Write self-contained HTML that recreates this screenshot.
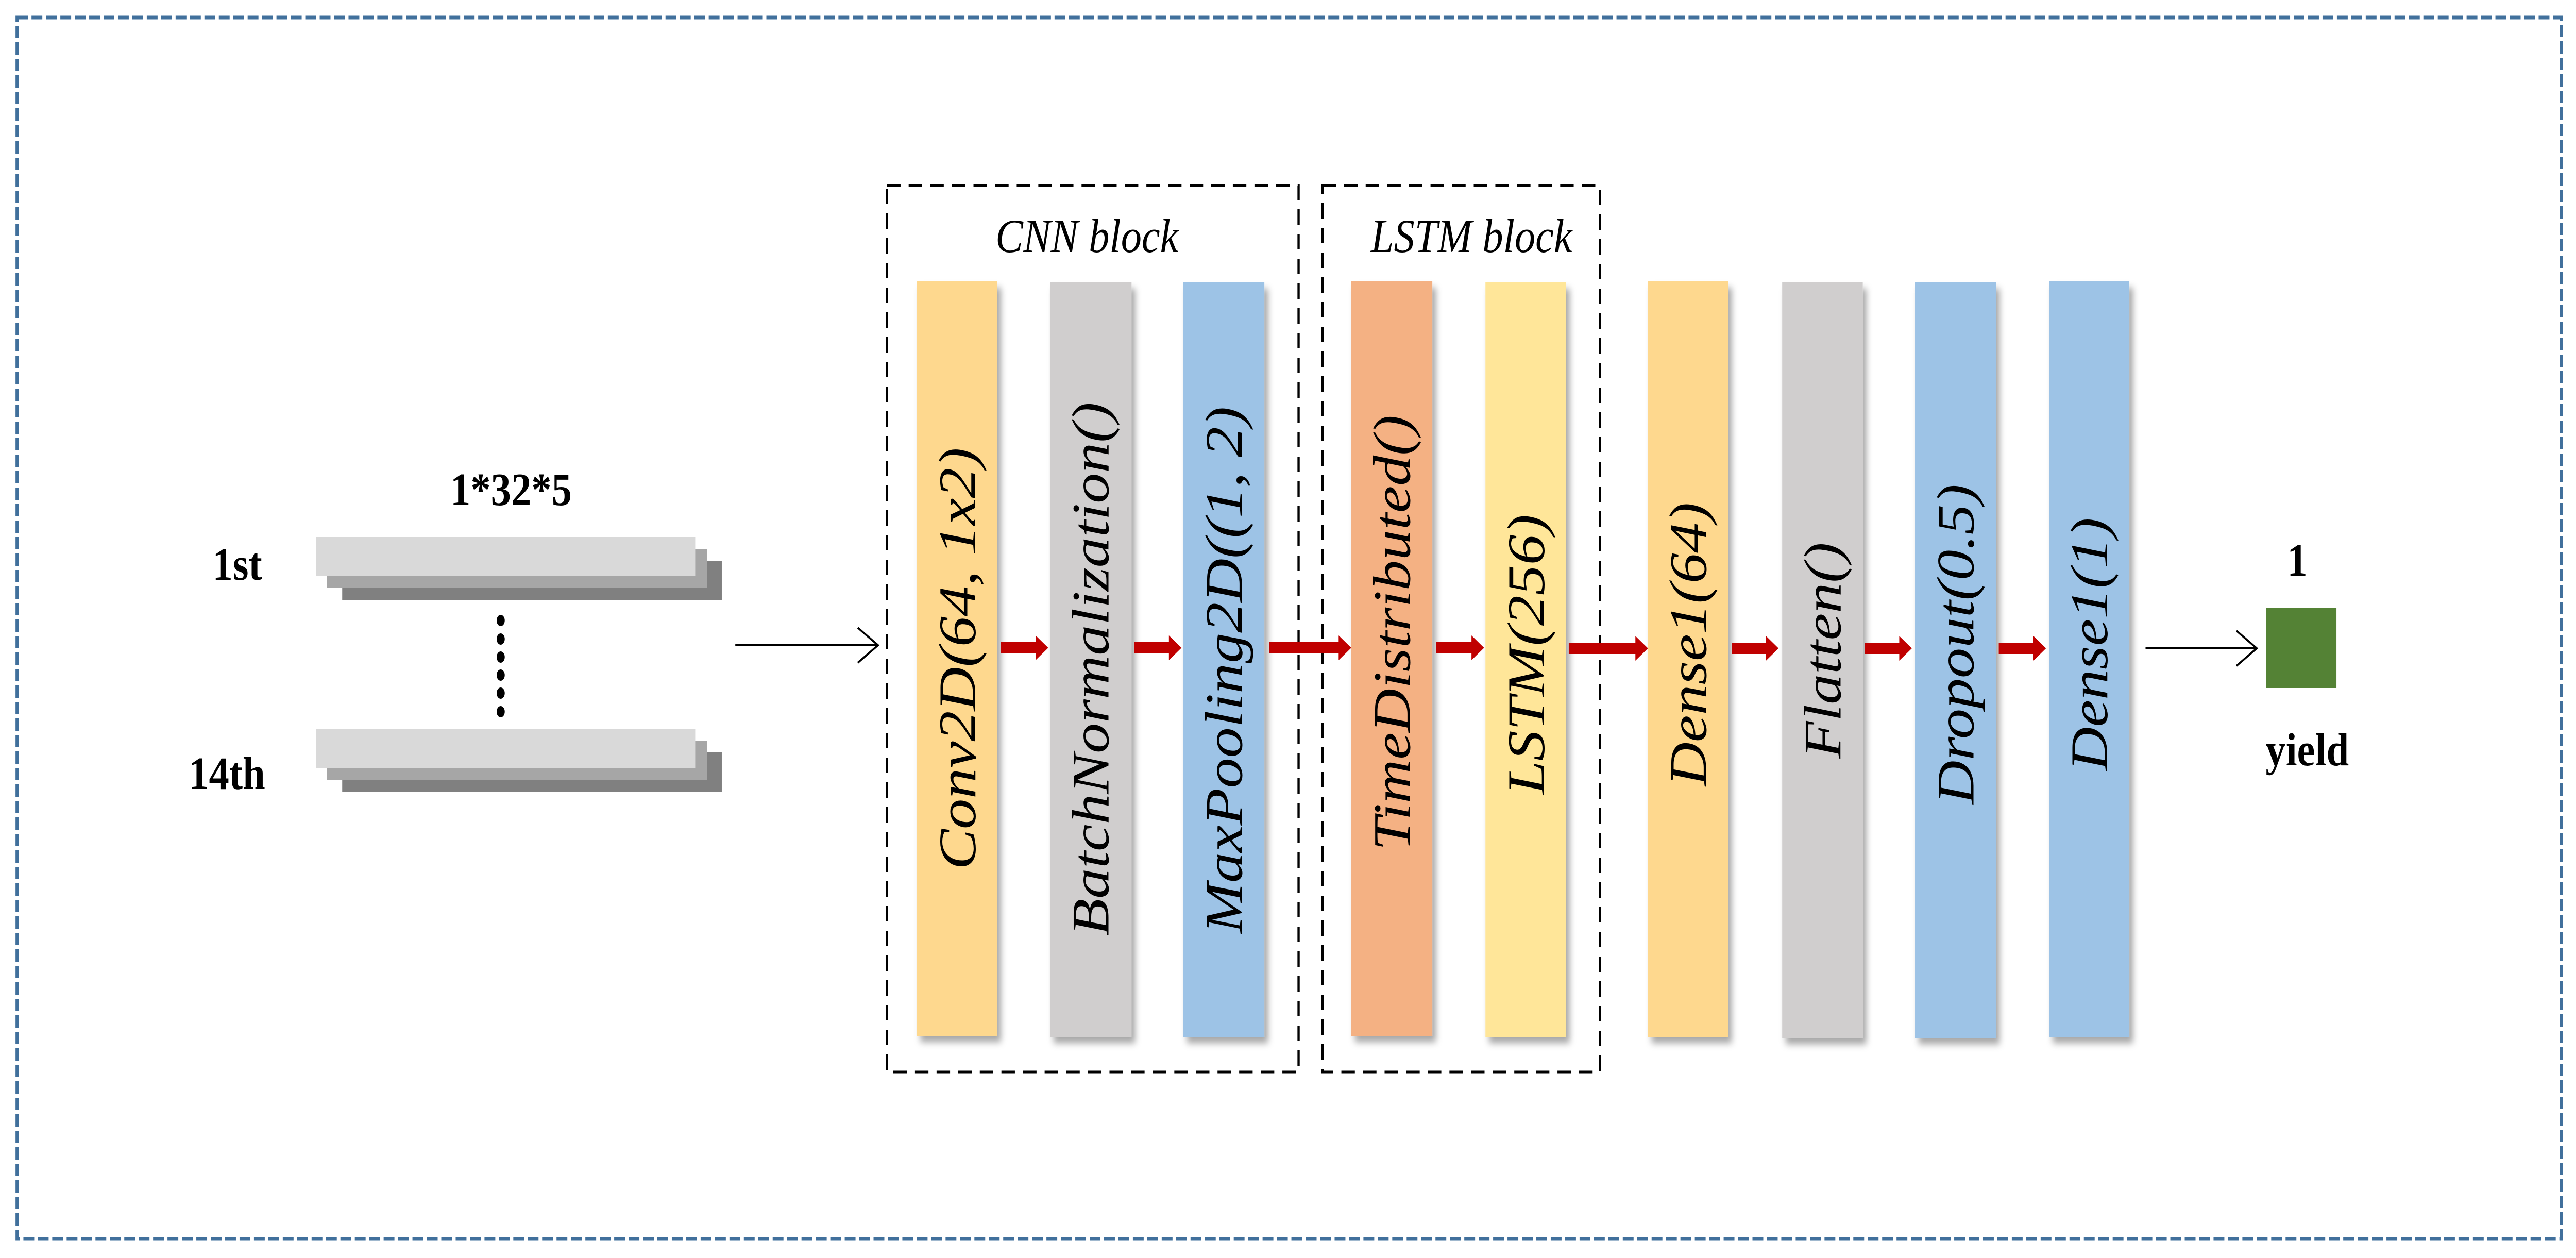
<!DOCTYPE html>
<html><head><meta charset="utf-8"><style>
html,body{margin:0;padding:0;background:#fff;width:100%;height:100%;overflow:hidden;}
svg{display:block;position:absolute;left:0;top:0;width:100vw;height:100vh;}
</style></head><body>
<svg viewBox="0 0 5721 2441" preserveAspectRatio="none" xmlns="http://www.w3.org/2000/svg">
<defs>
<filter id="sh" x="-20%" y="-5%" width="150%" height="115%">
<feDropShadow dx="8" dy="12" stdDeviation="7" flood-color="#000" flood-opacity="0.35"/>
</filter>
</defs>
<rect x="38" y="34" width="5650" height="2370" fill="none" stroke="#41709c" stroke-width="7" stroke-dasharray="24 8"/>

<g>
<rect x="760" y="1088" width="843" height="76" fill="#808080"/>
<rect x="726" y="1066" width="844" height="74" fill="#a6a6a6"/>
<rect x="702" y="1042" width="842" height="76" fill="#d9d9d9"/>
<rect x="760" y="1460" width="843" height="76" fill="#808080"/>
<rect x="726" y="1438" width="844" height="75" fill="#a6a6a6"/>
<rect x="702" y="1414" width="842" height="76" fill="#d9d9d9"/>
</g>
<g fill="#000">
<ellipse cx="1112" cy="1204" rx="9" ry="11"/>
<ellipse cx="1112" cy="1240" rx="9" ry="11"/>
<ellipse cx="1112" cy="1275" rx="9" ry="11"/>
<ellipse cx="1112" cy="1310" rx="9" ry="11"/>
<ellipse cx="1112" cy="1345" rx="9" ry="11"/>
<ellipse cx="1112" cy="1381" rx="9" ry="11"/>
</g>
<g font-family="Liberation Serif, serif" font-weight="bold" font-size="90" fill="#000">
<text x="1135" y="980" text-anchor="middle">1*32*5</text>
<text x="527" y="1125" text-anchor="middle">1st</text>
<text x="504" y="1531" text-anchor="middle">14th</text>
<text x="5102" y="1117" text-anchor="middle">1</text>
<text x="5124" y="1485" text-anchor="middle">yield</text>
</g>

<g stroke="#000" stroke-width="4" fill="none">
<line x1="1633" y1="1252" x2="1950" y2="1252"/>
<polyline points="1905,1218 1950,1252 1905,1286"/>
<line x1="4765" y1="1258" x2="5012" y2="1258"/>
<polyline points="4967,1224 5012,1258 4967,1292"/>
</g>
<rect x="5033" y="1179" width="156" height="156" fill="#548235"/>

<g fill="none" stroke="#000" stroke-width="5" stroke-dasharray="30 18">
<rect x="1970" y="360" width="914" height="1720"/>
<rect x="2937" y="360" width="616" height="1720"/>
</g>
<g font-family="Liberation Serif, serif" font-style="italic" font-size="92" fill="#000">
<text x="2414" y="489" text-anchor="middle">CNN block</text>
<text x="3268" y="489" text-anchor="middle">LSTM block</text>
</g>

<g filter="url(#sh)">
<rect x="2036" y="546" width="179" height="1464" fill="#fed88e"/>
<rect x="2332" y="548" width="181" height="1464" fill="#d0cece"/>
<rect x="2628" y="548" width="180" height="1464" fill="#9dc3e6"/>
<rect x="3001" y="546" width="180" height="1464" fill="#f4b183"/>
<rect x="3299" y="548" width="179" height="1464" fill="#ffe699"/>
<rect x="3660" y="546" width="178" height="1466" fill="#fed88e"/>
<rect x="3958" y="548" width="179" height="1466" fill="#d0cece"/>
<rect x="4253" y="548" width="180" height="1466" fill="#9dc3e6"/>
<rect x="4551" y="546" width="178" height="1466" fill="#9dc3e6"/>
</g>
<g font-family="Liberation Serif, serif" font-style="italic" font-size="118" fill="#000" text-anchor="middle" dominant-baseline="central">
<text transform="translate(2126,1278) rotate(-90)">Conv2D(64, 1x2)</text>
<text transform="translate(2422,1298) rotate(-90)">BatchNormalization()</text>
<text transform="translate(2718,1300) rotate(-90)">MaxPooling2D((1, 2)</text>
<text transform="translate(3091,1228) rotate(-90)">TimeDistributed()</text>
<text transform="translate(3389,1270) rotate(-90)">LSTM(256)</text>
<text transform="translate(3749,1250) rotate(-90)">Dense1(64)</text>
<text transform="translate(4048,1262) rotate(-90)">Flatten()</text>
<text transform="translate(4343,1250) rotate(-90)">Dropout(0.5)</text>
<text transform="translate(4640,1250) rotate(-90)">Dense1(1)</text>
</g>

<g fill="#c00000">
<polygon points="2223,1246 2300,1246 2300,1233 2328,1257 2300,1281 2300,1268 2223,1268"/>
<polygon points="2519,1246 2596,1246 2596,1233 2624,1257 2596,1281 2596,1268 2519,1268"/>
<polygon points="2819,1246 2973,1246 2973,1233 3001,1257 2973,1281 2973,1268 2819,1268"/>
<polygon points="3190,1246 3268,1246 3268,1233 3296,1257 3268,1281 3268,1268 3190,1268"/>
<polygon points="3484,1247 3632,1247 3632,1234 3660,1258 3632,1282 3632,1269 3484,1269"/>
<polygon points="3846,1247 3922,1247 3922,1234 3950,1258 3922,1282 3922,1269 3846,1269"/>
<polygon points="4142,1247 4218,1247 4218,1234 4246,1258 4218,1282 4218,1269 4142,1269"/>
<polygon points="4439,1247 4516,1247 4516,1234 4544,1258 4516,1282 4516,1269 4439,1269"/>
</g>
</svg>
</body></html>
